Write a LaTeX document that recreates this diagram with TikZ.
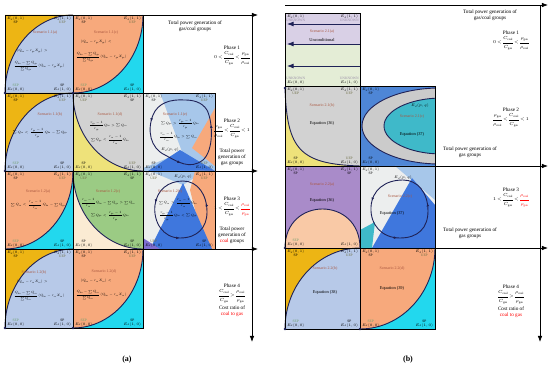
\RequirePackage{fix-cm}
\documentclass[tikz,border=0pt]{standalone}
\usepackage{amsmath}
\usepackage{fontspec}
\setmainfont{Liberation Serif}
\usetikzlibrary{positioning,arrows.meta,decorations.markings}

\definecolor{cgold}{HTML}{EDB514}
\definecolor{clblue}{HTML}{B7C9E8}
\definecolor{corange}{HTML}{F7A97C}
\definecolor{ccyan}{HTML}{22D8EE}
\definecolor{cgray}{HTML}{D2D2D2}
\definecolor{cyel}{HTML}{EEE27A}
\definecolor{cgreen}{HTML}{9BCB84}
\definecolor{ccream}{HTML}{FBEBD3}
\definecolor{cpurple}{HTML}{A98BC9}
\definecolor{cpeach}{HTML}{F9C9A6}
\definecolor{clav}{HTML}{D9D0E6}
\definecolor{clgreen}{HTML}{E4EDD6}
\definecolor{cblue}{HTML}{4E86D6}
\definecolor{cring}{HTML}{CBCBCB}
\definecolor{cteal}{HTML}{3FB9C9}
\definecolor{csky}{HTML}{A7C7EA}
\definecolor{cdeep}{HTML}{3F77DD}
\definecolor{cpale}{HTML}{ECEEEE}
\definecolor{cviolet}{HTML}{7F6FD0}
\definecolor{cnavy}{HTML}{1F2257}
\definecolor{cscen}{HTML}{A9563F}
\definecolor{cSP}{HTML}{000000}
\definecolor{cUEP}{HTML}{6F6F45}
\definecolor{cSEP}{HTML}{6FA06F}
\definecolor{cUNKNOWN}{HTML}{9A8FA8}

\begin{document}
\begin{tikzpicture}[x=1pt,y=-1pt,>=Latex,
			ed/.style={inner sep=0.3pt,font=\fontsize{3.6}{4}\selectfont},
			role/.style={inner sep=0.3pt,font=\fontsize{3.6}{4}\selectfont},
			scen/.style={inner sep=0.5pt,text=cscen,font=\fontsize{4}{4.5}\selectfont},
			eqn/.style={inner sep=0.5pt,font=\fontsize{4.4}{5}\selectfont},
			frm/.style={inner sep=0.3pt,font=\fontsize{3.2}{4}\selectfont},
			phase/.style={inner sep=0.5pt,align=center,font=\fontsize{5.2}{6}\selectfont},
			phasemath/.style={inner sep=0.5pt,font={\fontsize{4.4}{5}\selectfont\thickmuskip=3mu\nulldelimiterspace=0pt}},
			cell/.style={draw=black,line width=0.9pt},
			bound/.style={draw=cnavy,line width=0.9pt},
			axisline/.style={->,line width=0.7pt},
			enddot/.style={circle,fill=cnavy,inner sep=0pt,minimum size=2.6pt},
			cycleflow/.style={draw=cnavy,line width=0.9pt,postaction={decorate},
				decoration={markings,
					mark=at position 0.22 with {\arrow{Latex[length=3.2pt,width=2.8pt]}},
					mark=at position 0.5 with {\arrow{Latex[length=3.2pt,width=2.8pt]}},
					mark=at position 0.8 with {\arrow{Latex[length=3.2pt,width=2.8pt]}}}}
			]
			
			\useasboundingbox (0,0) rectangle (550,369);
			
			% panel (a), phase 1
			\fill[clblue] (5,15) rectangle (73,93);
			\fill[cgold] (5,93) .. controls (5,50) and (35.5,15) .. (73,15) -- (5,15) -- cycle;
			\draw[bound] (5,93) .. controls (5,50) and (35.5,15) .. (73,15);
			
			\fill[corange] (73,15) rectangle (143,93);
			\fill[ccyan] (73,93) .. controls (111.6,93) and (143,58) .. (143,15) -- (143,93) -- cycle;
			\draw[bound] (73,93) .. controls (111.6,93) and (143,58) .. (143,15);
			
			% panel (a), phase 2
			\fill[clblue] (5,93) rectangle (73,171);
			\fill[cgold] (5,171) .. controls (5,128) and (35.5,93) .. (73,93) -- (5,93) -- cycle;
			\draw[bound] (5,171) .. controls (5,128) and (35.5,93) .. (73,93);
			
			\fill[cgray] (73,93) rectangle (143,171);
			\fill[cyel] (73,93) .. controls (73,136) and (104.4,171) .. (143,171) -- (73,171) -- cycle;
			\draw[bound] (73,93) .. controls (73,136) and (104.4,171) .. (143,171);
			
			\fill[csky] (143,93) rectangle (215,171);
			\fill[cpale] (143,93) -- (160,93) -- (182,152) -- (143,168) -- cycle;
			\fill[corange] (215,108) -- (192,148) -- (215,166) -- cycle;
			\fill[cdeep] (148,171) -- (180,150) -- (215,171) -- cycle;
			\draw[cycleflow] (185,100) .. controls (170,99) and (158,103) .. (153,115)
			.. controls (147,130) and (150,148) .. (165,155)
			.. controls (178,162) and (190,170) .. (203,160)
			.. controls (214,150) and (213,122) .. (207,110)
			.. controls (202,102) and (193,100) .. (185,100);
			
			% panel (a), phase 3
			\fill[corange] (5,171) rectangle (73,249);
			\fill[ccyan] (73,171) .. controls (73,214) and (42.5,249) .. (5,249) -- (73,249) -- cycle;
			\draw[bound] (73,171) .. controls (73,214) and (42.5,249) .. (5,249);
			
			\fill[cgreen] (73,171) rectangle (143,249);
			\fill[ccream] (73,171) .. controls (73,214) and (104.4,249) .. (143,249) -- (73,249) -- cycle;
			\draw[bound] (73,171) .. controls (73,214) and (104.4,249) .. (143,249);
			
			\fill[cpale] (143,171) rectangle (215,249);
			\fill[csky] (150,171) -- (205,171) -- (183,185) -- cycle;
			\fill[corange] (195,171) -- (215,171) -- (215,249) -- (205,249) -- (190,190) -- cycle;
			\fill[cdeep] (150,249) -- (183,183) -- (212,249) -- cycle;
			\fill[cviolet] (143,238) -- (160,249) -- (143,249) -- cycle;
			\draw[cycleflow] (183,181) .. controls (168,181) and (157,190) .. (155,205)
			.. controls (153,222) and (163,238) .. (180,238)
			.. controls (197,238) and (207,228) .. (207,212)
			.. controls (207,195) and (198,181) .. (183,181);
			
			% panel (a), phase 4
			\fill[clblue] (5,249) rectangle (73,328);
			\fill[cgold] (5,328) .. controls (5,284.4) and (35.5,249) .. (73,249) -- (5,249) -- cycle;
			\draw[bound] (5,328) .. controls (5,284.4) and (35.5,249) .. (73,249);
			
			\fill[corange] (73,249) rectangle (143,328);
			\fill[ccyan] (73,328) .. controls (111.6,328) and (143,292.6) .. (143,249) -- (143,328) -- cycle;
			\draw[bound] (73,328) .. controls (111.6,328) and (143,292.6) .. (143,249);
			
			% panel (b), scenario 2.1
			\fill[clav] (285,13) rectangle (360,45);
			\fill[clgreen] (285,45) rectangle (360,86);
			\coordinate (u1s) at (360,24); \coordinate (u1e) at (287,24);
			\coordinate (u2s) at (360,44); \coordinate (u2e) at (287,44);
			\coordinate (u3s) at (360,66); \coordinate (u3e) at (287,66);
			\draw[->,cnavy,line width=0.8pt] (u1s) -- (u1e);
			\draw[->,cnavy,line width=0.8pt] (u2s) -- (u2e);
			\draw[->,cnavy,line width=0.8pt] (u3s) -- (u3e);
			
			\fill[cgray] (285,86) rectangle (360,166);
			\fill[cyel] (285,88) .. controls (287,150) and (300,164) .. (360,166) -- (285,166) -- cycle;
			\draw[bound] (285,88) .. controls (287,150) and (300,164) .. (360,166);
			
			\begin{scope}
				\clip (360,86) rectangle (435,166);
				\fill[cblue] (360,86) rectangle (435,166);
				\filldraw[fill=cring,draw=cnavy,line width=0.9pt] (440,126) ellipse [x radius=78pt,y radius=38pt];
				\filldraw[fill=cteal,draw=cnavy,line width=0.9pt] (442,126) ellipse [x radius=58pt,y radius=28pt];
			\end{scope}
			
			% panel (b), scenario 2.2
			\fill[cpurple] (285,166) rectangle (360,248);
			\fill[cpeach] (285,248) .. controls (285,196) and (360,196) .. (360,248) -- cycle;
			\draw[bound] (285,248) .. controls (285,196) and (360,196) .. (360,248);
			
			\fill[cpale] (360,166) rectangle (435,248);
			\fill[csky] (395,166) -- (435,166) -- (435,200) -- cycle;
			\fill[cdeep] (372,248) -- (412,178) -- (435,205) -- (435,248) -- cycle;
			\fill[cteal] (360,230) -- (375,222) -- (372,248) -- (360,248) -- cycle;
			\draw[cycleflow] (403,180) .. controls (385,180) and (372,190) .. (371,207)
			.. controls (370,225) and (382,238) .. (400,238)
			.. controls (418,238) and (428,228) .. (428,211)
			.. controls (428,193) and (418,180) .. (403,180);
			
			\fill[clblue] (285,248) rectangle (360,329);
			\fill[cgold] (285,329) .. controls (285,284.3) and (318.6,248) .. (360,248) -- (285,248) -- cycle;
			\draw[bound] (285,329) .. controls (285,284.3) and (318.6,248) .. (360,248);
			
			\fill[corange] (360,248) rectangle (435,329);
			\fill[ccyan] (360,329) .. controls (401.4,329) and (435,292.7) .. (435,248) -- (435,329) -- cycle;
			\draw[bound] (360,329) .. controls (401.4,329) and (435,292.7) .. (435,248);
			
			% cell frames
			\foreach \xa/\ya/\xb/\yb in {5/15/73/93,73/15/143/93,5/93/73/171,73/93/143/171,143/93/215/171,
				5/171/73/249,73/171/143/249,143/171/215/249,5/249/73/328,73/249/143/328,
				285/13/360/86,285/86/360/166,360/86/435/166,285/166/360/248,360/166/435/248,
				285/248/360/329,360/248/435/329}
			\draw[cell] (\xa,\ya) rectangle (\xb,\yb);
			
			% curve end points
			\foreach \px/\py [count=\i] in {5/93,73/93,5/171,5/328,73/328,285/88,285/248,285/329,360/329}
			\node[enddot] (end\i) at (\px,\py) {};
			
			% axes
			\coordinate (aO) at (5,15); \coordinate (aX) at (258,15);
			\coordinate (aV) at (252,15); \coordinate (aY) at (252,342);
			\coordinate (aM) at (5,171); \coordinate (aMX) at (258,171);
			\coordinate (aL) at (5,249); \coordinate (aLX) at (258,249);
			\draw[axisline] (aO) -- (aX);
			\draw[axisline] (aV) -- (aY);
			\draw[axisline] (aM) -- (aMX);
			\draw[axisline] (aL) -- (aLX);
			
			\coordinate (bO) at (285,5); \coordinate (bX) at (548,5);
			\coordinate (bV) at (540,5); \coordinate (bY) at (540,342);
			\coordinate (bM) at (285,166); \coordinate (bMX) at (548,166);
			\coordinate (bL) at (285,248); \coordinate (bLX) at (548,248);
			\draw[axisline] (bO) -- (bX);
			\draw[axisline] (bV) -- (bY);
			\draw[axisline] (bM) -- (bMX);
			\draw[axisline] (bL) -- (bLX);
			
			% corner labels
			\foreach \xa/\ya/\xb/\yb/\ra/\rb/\rc/\rd/\nm in {
				5/15/73/93/SP/UEP/SEP/SP/aA, 73/15/143/93/SP/UEP/SEP/SP/aC,
				5/93/73/171/SP/UEP/SEP/SP/aB, 73/93/143/171/UEP/SP/SP/UEP/aD,
				143/93/215/171/SP/UEP/SP/UEP/aE, 5/171/73/249/SP/UEP/SEP/SP/aF,
				73/171/143/249/UEP/SP/SP/SP/aG, 143/171/215/249/UEP/UEP/UEP/SP/aH,
				5/249/73/328/SP/UEP/SEP/SP/aI, 73/249/143/328/SP/UEP/SEP/SP/aJ,
				285/13/360/86/UNKNOWN/UNKNOWN/UNKNOWN/UNKNOWN/bA,
				285/86/360/166/UEP/UEP/SP/UEP/bB,
				285/248/360/329/SP/UEP/SEP/SP/bF, 360/248/435/329/SP/UEP/SEP/SP/bG}{
				\node[ed,anchor=north west] (\nm-tl) at (\xa+1.5,\ya+1.5) {$E_d(0,1)$};
				\node[role,below=0pt of \nm-tl] (\nm-tlr) {\textcolor{c\ra}{\ra}};
				\node[ed,anchor=north east] (\nm-tr) at (\xb-1.5,\ya+1.5) {$E_d(1,1)$};
				\node[role,below=0pt of \nm-tr] (\nm-trr) {\textcolor{c\rb}{\rb}};
				\node[ed,anchor=south west] (\nm-bl) at (\xa+1.5,\yb-1.5) {$E_d(0,0)$};
				\node[role,above=0pt of \nm-bl] (\nm-blr) {\textcolor{c\rc}{\rc}};
				\node[ed,anchor=south east] (\nm-br) at (\xb-1.5,\yb-1.5) {$E_d(1,0)$};
				\node[role,above=0pt of \nm-br] (\nm-brr) {\textcolor{c\rd}{\rd}};
			}
			
			\node[ed,anchor=north west] (bC-tl) at (361.5,87.5) {$E_d(0,1)$};
			\node[role,below=0pt of bC-tl] (bC-tlr) {SP};
			\node[ed,anchor=south west] (bC-bl) at (361.5,164.5) {$E_d(0,0)$};
			\node[role,above=0pt of bC-bl] (bC-blr) {SP};
			\node[ed] (bC-pq) at (420,106) {$E_d(p,q)$};
			
			\node[ed,anchor=north west] (bD-tl) at (286.5,167.5) {$E_d(0,1)$};
			\node[role,below=0pt of bD-tl] (bD-tlr) {SP};
			\node[ed,anchor=north east] (bD-tr) at (358.5,167.5) {$E_d(1,1)$};
			\node[role,below=0pt of bD-tr] (bD-trr) {SP};
			\node[ed,anchor=south west] (bD-bl) at (286.5,246.5) {$E_d(0,0)$};
			\node[role,above=0pt of bD-bl] (bD-blr) {\textcolor{cSEP}{SEP}};
			\node[ed,anchor=south east] (bD-br) at (358.5,246.5) {$E_d(1,0)$};
			
			\node[ed,anchor=north west] (bE-tl) at (361.5,167.5) {$E_d(0,1)$};
			\node[role,below=0pt of bE-tl] (bE-tlr) {SP};
			\node[ed] (bE-pq) at (403,178) {$E_d(p,q)$};
			\node[ed] (aE-pq) at (170,150) {$E_d(p,q)$};
			\node[ed] (aH-pq) at (183,177) {$E_d(p,q)$};
			
			% scenario names and conditions, panel (a)
			\node[scen] (aA-s) at (45,33) {Scenario 1.1(a)};
			\node[frm] (aA-f1) at (32,51) {$(Q_{\mathrm{bu}}-r_{\mathrm{ga}}X_{\mathrm{ga}})>$};
			\node[frm] (aA-f2) at (39,66) {$\dfrac{Q_{\mathrm{bu}}-\sum Q_{\mathrm{ga}}}{\sum Q_{\mathrm{ga}}}(Q_{\mathrm{bu}}-r_{\mathrm{ga}}X_{\mathrm{ga}})$};
			
			\node[scen] (aC-s) at (106,33) {Scenario 1.1(c)};
			\node[frm] (aC-f1) at (96,42) {$(Q_{\mathrm{bu}}-r_{\mathrm{ga}}X_{\mathrm{ga}})<$};
			\node[frm] (aC-f2) at (101,57) {$\dfrac{Q_{\mathrm{bu}}-\sum Q_{\mathrm{ga}}}{\sum Q_{\mathrm{ga}}}(Q_{\mathrm{bu}}-r_{\mathrm{ga}}X_{\mathrm{ga}})$};
			
			\node[scen] (aB-s) at (50,115) {Scenario 1.1(b)};
			\node[frm] (aB-f1) at (40,133) {$\sum Q_{\mathrm{co}}<\dfrac{r_{\mathrm{ga}}-1}{r_{\mathrm{ga}}}Q_{\mathrm{bu}}-\sum Q_{\mathrm{ga}}$};
			
			\node[scen] (aD-s) at (110,115) {Scenario 1.1(d)};
			\node[frm] (aD-f1) at (108,126) {$\dfrac{r_{\mathrm{ga}}-1}{r_{\mathrm{ga}}}Q_{\mathrm{bu}}>\sum Q_{\mathrm{co}}$};
			\node[frm] (aD-f2) at (110,140) {$\sum Q_{\mathrm{ga}}<\dfrac{r_{\mathrm{co}}-1}{r_{\mathrm{co}}}Q_{\mathrm{bu}}$};
			
			\node[scen] (aE-s) at (175,115) {Scenario 1.1(e)};
			\node[frm] (aE-f1) at (180,124) {$\sum Q_{\mathrm{ga}}>\dfrac{r_{\mathrm{ga}}-1}{r_{\mathrm{ga}}}Q_{\mathrm{bu}}$};
			\node[frm] (aE-f2) at (178,137) {$\dfrac{r_{\mathrm{co}}-1}{r_{\mathrm{co}}}Q_{\mathrm{bu}}>\sum Q_{\mathrm{co}}$};
			
			\node[scen] (aF-s) at (38,192) {Scenario 1.2(a)};
			\node[frm] (aF-f1) at (38,205) {$\sum Q_{\mathrm{co}}<\dfrac{r_{\mathrm{co}}-1}{r_{\mathrm{co}}}Q_{\mathrm{bu}}-\sum Q_{\mathrm{ga}}$};
			
			\node[scen] (aG-s) at (108,192) {Scenario 1.2(c)};
			\node[frm] (aG-f1) at (108,203) {$\dfrac{r_{\mathrm{co}}-1}{r_{\mathrm{co}}}Q_{\mathrm{bu}}-\sum Q_{\mathrm{ga}}>\sum Q_{\mathrm{co}}$};
			\node[frm] (aG-f2) at (110,216) {$\sum Q_{\mathrm{ga}}<\dfrac{r_{\mathrm{ga}}-1}{r_{\mathrm{ga}}}Q_{\mathrm{bu}}$};
			
			\node[scen] (aH-s) at (170,192) {Scenario 1.2(e)};
			\node[frm] (aH-f1) at (178,203) {$\sum Q_{\mathrm{co}}>\dfrac{r_{\mathrm{co}}-1}{r_{\mathrm{co}}}Q_{\mathrm{bu}}$};
			\node[frm] (aH-f2) at (178,216) {$\dfrac{r_{\mathrm{ga}}-1}{r_{\mathrm{ga}}}Q_{\mathrm{bu}}<\sum Q_{\mathrm{ga}}$};
			
			\node[scen] (aI-s) at (34,273) {Scenario 1.2(b)};
			\node[frm] (aI-f1) at (32,282) {$(Q_{\mathrm{bu}}-r_{\mathrm{co}}X_{\mathrm{co}})>$};
			\node[frm] (aI-f2) at (39,296) {$\dfrac{Q_{\mathrm{bu}}-\sum Q_{\mathrm{co}}}{\sum Q_{\mathrm{co}}}(Q_{\mathrm{bu}}-r_{\mathrm{co}}X_{\mathrm{co}})$};
			
			\node[scen] (aJ-s) at (104,272) {Scenario 1.2(d)};
			\node[frm] (aJ-f1) at (96,281) {$(Q_{\mathrm{bu}}-r_{\mathrm{co}}X_{\mathrm{co}})<$};
			\node[frm] (aJ-f2) at (101,295) {$\dfrac{Q_{\mathrm{bu}}-\sum Q_{\mathrm{co}}}{\sum Q_{\mathrm{co}}}(Q_{\mathrm{bu}}-r_{\mathrm{co}}X_{\mathrm{co}})$};
			
			% scenario names and equations, panel (b)
			\node[scen] (bA-s) at (322,32) {Scenario 2.1(a)};
			\node[eqn] (bA-e) at (322,40) {Unconditional};
			\node[scen] (bB-s) at (322,106) {Scenario 2.1(b)};
			\node[eqn] (bB-e) at (322,123) {Equation (36)};
			\node[scen] (bC-s) at (412,117) {Scenario 2.1(c)};
			\node[eqn] (bC-e) at (412,134) {Equation (37)};
			\node[scen] (bD-s) at (322,185) {Scenario 2.2(a)};
			\node[eqn] (bD-e) at (322,200) {Equation (36)};
			\node[scen] (bE-s) at (400,197) {Scenario 2.2(c)};
			\node[eqn] (bE-e) at (392,213) {Equation (37)};
			\node[scen] (bF-s) at (325,269) {Scenario 2.2(b)};
			\node[eqn] (bF-e) at (325,292) {Equation (38)};
			\node[scen] (bG-s) at (392,269) {Scenario 2.2(d)};
			\node[eqn] (bG-e) at (392,288) {Equation (39)};
			
			% phases, panel (a)
			\node[phase] (a-title) at (195,26) {Total power generation of\\gas/coal groups};
			\node[phase] (a-ph1) at (232,48) {Phase 1};
			\node[phasemath,below=0.5pt of a-ph1] (a-c1) {$0<\dfrac{C_{\mathrm{coal}}}{C_{\mathrm{gas}}}<\dfrac{\rho_{\mathrm{gas}}}{\rho_{\mathrm{coal}}}$};
			\node[phase] (a-ph2) at (232,121) {Phase 2};
			\node[phasemath,below=0.5pt of a-ph2] (a-c2) {$\dfrac{\rho_{\mathrm{gas}}}{\rho_{\mathrm{coal}}}<\dfrac{C_{\mathrm{coal}}}{C_{\mathrm{gas}}}<1$};
			\node[phase] (a-g2) at (232,157) {Total power\\generation of\\gas groups};
			\node[phase] (a-ph3) at (232,199) {Phase 3};
			\node[phasemath,below=0.5pt of a-ph3] (a-c3) {$1<\dfrac{C_{\mathrm{coal}}}{C_{\mathrm{gas}}}<\textcolor{red}{\dfrac{\rho_{\mathrm{coal}}}{\rho_{\mathrm{gas}}}}$};
			\node[phase] (a-g3) at (232,235) {Total power\\generation of\\\textcolor{red}{coal} groups};
			\node[phase] (a-ph4) at (232,286) {Phase 4};
			\node[phasemath,below=0.5pt of a-ph4] (a-c4) {$\dfrac{C_{\mathrm{coal}}}{C_{\mathrm{gas}}}>\dfrac{\rho_{\mathrm{coal}}}{\rho_{\mathrm{gas}}}$};
			\node[phase,below=2pt of a-c4] (a-r4) {Cost ratio of\\\textcolor{red}{coal to gas}};
			
			% phases, panel (b)
			\node[phase] (b-title) at (490,15) {Total power generation of\\gas/coal groups};
			\node[phase] (b-ph1) at (511,33) {Phase 1};
			\node[phasemath,below=0.5pt of b-ph1] (b-c1) {$0<\dfrac{C_{\mathrm{coal}}}{C_{\mathrm{gas}}}<\dfrac{\rho_{\mathrm{gas}}}{\rho_{\mathrm{coal}}}$};
			\node[phase] (b-ph2) at (511,110) {Phase 2};
			\node[phasemath,below=0.5pt of b-ph2] (b-c2) {$\dfrac{\rho_{\mathrm{gas}}}{\rho_{\mathrm{coal}}}<\dfrac{C_{\mathrm{coal}}}{C_{\mathrm{gas}}}<1$};
			\node[phase] (b-g2) at (470,152) {Total power generation of\\gas groups};
			\node[phase] (b-ph3) at (511,190) {Phase 3};
			\node[phasemath,below=0.5pt of b-ph3] (b-c3) {$1<\dfrac{C_{\mathrm{coal}}}{C_{\mathrm{gas}}}<\textcolor{red}{\dfrac{\rho_{\mathrm{coal}}}{\rho_{\mathrm{gas}}}}$};
			\node[phase] (b-g3) at (470,233) {Total power generation of\\gas groups};
			\node[phase] (b-ph4) at (511,287) {Phase 4};
			\node[phasemath,below=0.5pt of b-ph4] (b-c4) {$\dfrac{C_{\mathrm{coal}}}{C_{\mathrm{gas}}}>\dfrac{\rho_{\mathrm{coal}}}{\rho_{\mathrm{gas}}}$};
			\node[phase,below=2pt of b-c4] (b-r4) {Cost ratio of\\\textcolor{red}{coal to gas}};
			
			\node[font=\bfseries\fontsize{8}{9}\selectfont] (lab-a) at (127,360) {(a)};
			\node[font=\bfseries\fontsize{8}{9}\selectfont] (lab-b) at (408,360) {(b)};
			
		\end{tikzpicture}
\end{document}
